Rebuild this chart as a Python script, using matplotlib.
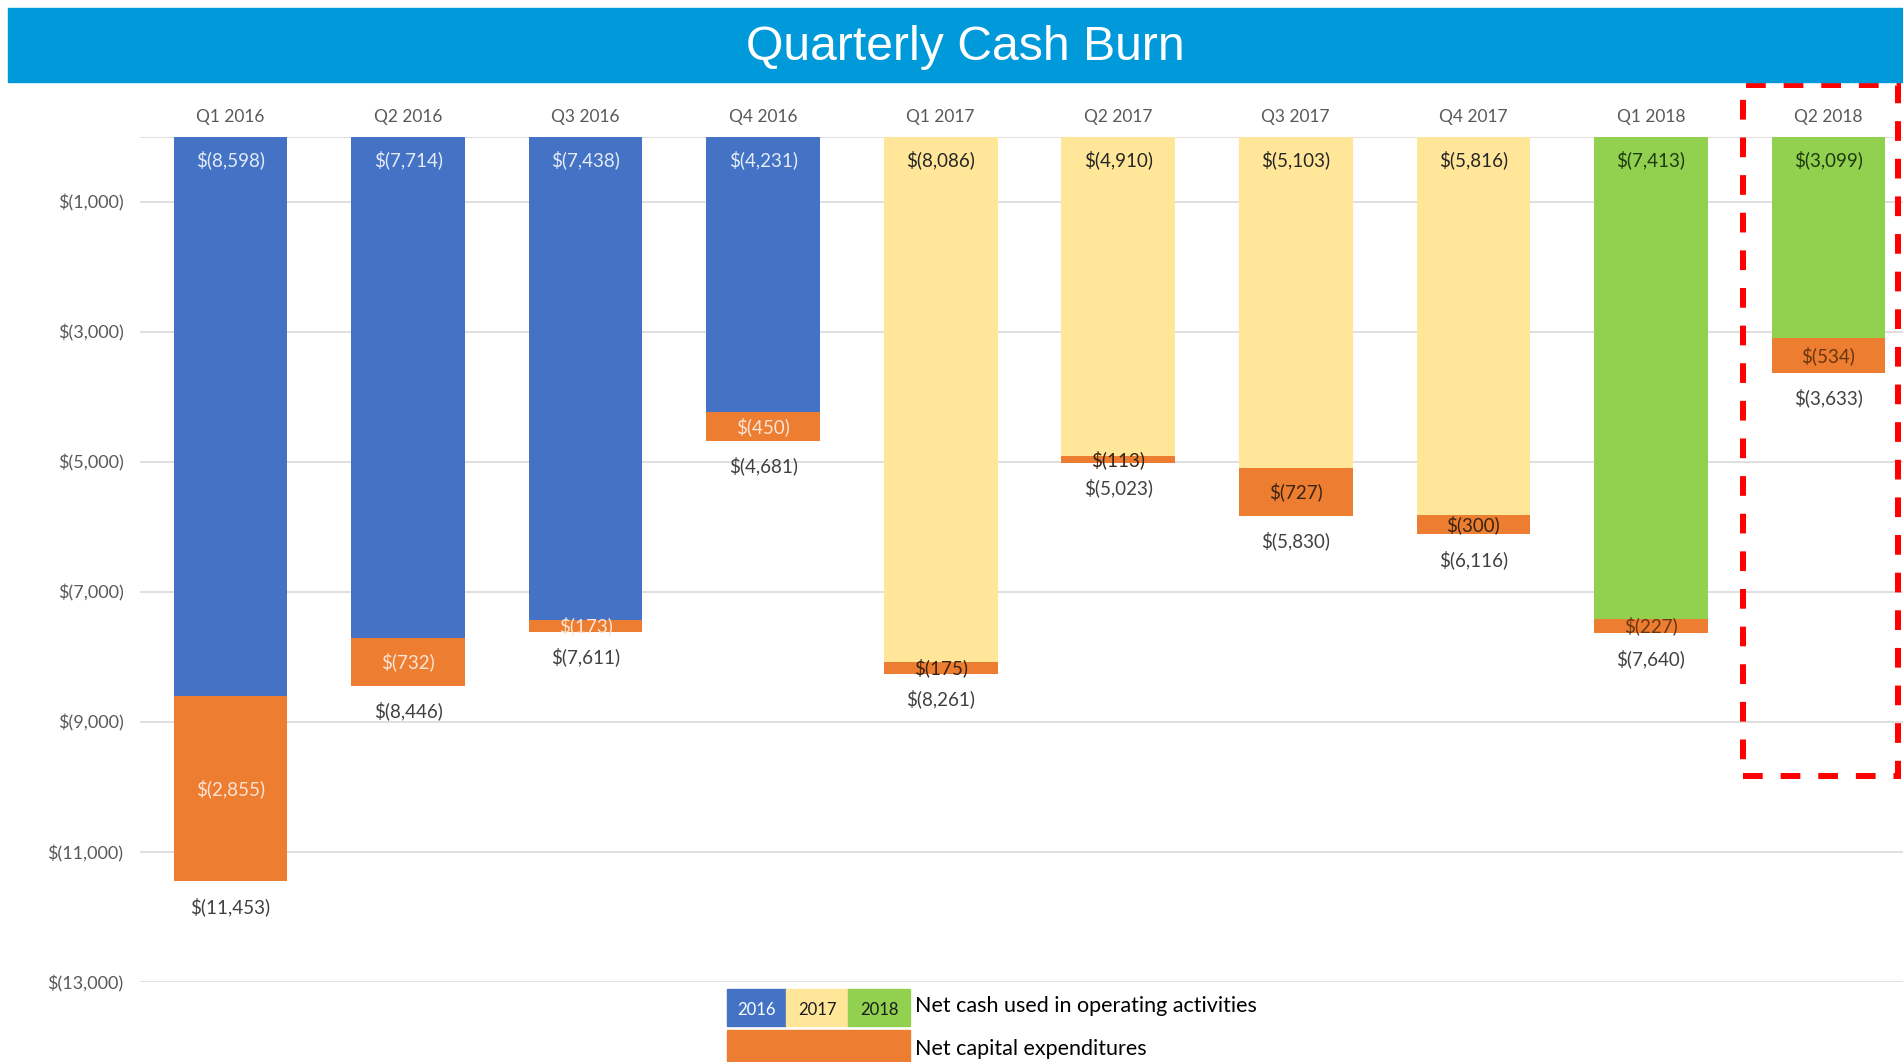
import matplotlib
matplotlib.use("Agg")
import matplotlib.pyplot as plt
from matplotlib.patches import Rectangle

plt.rcParams['font.family'] = ['Lato', 'DejaVu Sans']

quarters = ['Q1 2016', 'Q2 2016', 'Q3 2016', 'Q4 2016', 'Q1 2017',
            'Q2 2017', 'Q3 2017', 'Q4 2017', 'Q1 2018', 'Q2 2018']
years = [2016, 2016, 2016, 2016, 2017, 2017, 2017, 2017, 2018, 2018]
operating = [8598, 7714, 7438, 4231, 8086, 4910, 5103, 5816, 7413, 3099]
capex = [2855, 732, 173, 450, 175, 113, 727, 300, 227, 534]
totals = [11453, 8446, 7611, 4681, 8261, 5023, 5830, 6116, 7640, 3633]
y_ticks = [-1000, -3000, -5000, -7000, -9000, -11000, -13000]
highlight = 9

year_color = {2016: '#4472C4', 2017: '#FFE699', 2018: '#92D050'}
op_text = {2016: '#E4EBF7', 2017: '#262626', 2018: '#1E3A0F'}
cap_text = {2016: '#FCE4D6', 2017: '#3A2410', 2018: '#6B3510'}
orange = '#ED7D31'
grid = '#D9D9D9'


def money(v):
    return f"$({abs(v):,.0f})"


fig = plt.figure(figsize=(19.03, 10.62), dpi=100)
ax = fig.add_axes([140 / 1903, 1 - 982 / 1062, 1 - 140 / 1903, (982 - 136.5) / 1062])

# title band
fig.patches.append(Rectangle((8 / 1903, 1 - 82 / 1062), 1, 74 / 1062,
                             transform=fig.transFigure, color='#009ADA', zorder=0))
fig.text(965 / 1903, 1 - 47 / 1062, 'Quarterly Cash Burn', color='white',
         fontsize=34.7, family=['Liberation Sans', 'DejaVu Sans'],
         ha='center', va='center')

x = list(range(len(quarters)))
op_neg = [-v for v in operating]
cap_neg = [-v for v in capex]
bar_w = 0.64
ax.bar(x, op_neg, width=bar_w, color=[year_color[y] for y in years], zorder=2)
ax.bar(x, cap_neg, bottom=op_neg, width=bar_w, color=orange, zorder=2)

lbl = 13.5
for i in x:
    ax.annotate(money(operating[i]), (i, 0), xytext=(0, -17), textcoords='offset points',
                ha='center', va='center', fontsize=lbl, color=op_text[years[i]])
    ax.text(i, -operating[i] - capex[i] / 2, money(capex[i]), ha='center', va='center',
            fontsize=lbl, color=cap_text[years[i]], zorder=3)
    ax.annotate(money(totals[i]), (i, -totals[i]), xytext=(0, -18), textcoords='offset points',
                ha='center', va='center', fontsize=lbl, color='#404040')

ax.set_xlim(-0.51, 9.42)
ax.set_ylim(-13000, 0)
ax.set_yticks(y_ticks)
ax.set_yticklabels([money(v) for v in y_ticks])
ax.set_xticks(x)
ax.set_xticklabels(quarters)
ax.xaxis.tick_top()
ax.tick_params(axis='x', length=0, pad=8, labelsize=12.5, labelcolor='#595959')
ax.tick_params(axis='y', length=0, pad=12, labelsize=13, labelcolor='#595959')
ax.grid(axis='y', color=grid, lw=1.2, zorder=0)
ax.axhline(0, color=grid, lw=1.2, zorder=1)
for s in ax.spines.values():
    s.set_visible(False)

# dashed highlight box around the latest quarter
ax.add_patch(Rectangle((highlight - 0.48, -9840), 0.87, 10630, fill=False,
                       edgecolor='#FF0000', lw=4.3, linestyle=(0, (3.3, 3)),
                       clip_on=False, zorder=5))

# legend
cells = [(727, 786, 2016), (786, 848, 2017), (848, 910, 2018)]
for x0, x1, yr in cells:
    fig.patches.append(Rectangle((x0 / 1903, 1 - 1026 / 1062), (x1 - x0) / 1903, 37 / 1062,
                                 transform=fig.transFigure, color=year_color[yr]))
    fig.text((x0 + x1) / 2 / 1903, 1 - 1010 / 1062, str(yr), ha='center', va='center',
             fontsize=12, color='white' if yr == 2016 else '#1a1a1a')
fig.patches.append(Rectangle((727 / 1903, 0), 183 / 1903, 32 / 1062,
                             transform=fig.transFigure, color=orange))
fig.text(915 / 1903, 1 - 1006 / 1062, 'Net cash used in operating activities',
         ha='left', va='center', fontsize=15.5, color='black')
fig.text(915 / 1903, 1 - 1049 / 1062, 'Net capital expenditures',
         ha='left', va='center', fontsize=15.5, color='black')

fig.savefig('out.png', dpi=100, facecolor='white')
